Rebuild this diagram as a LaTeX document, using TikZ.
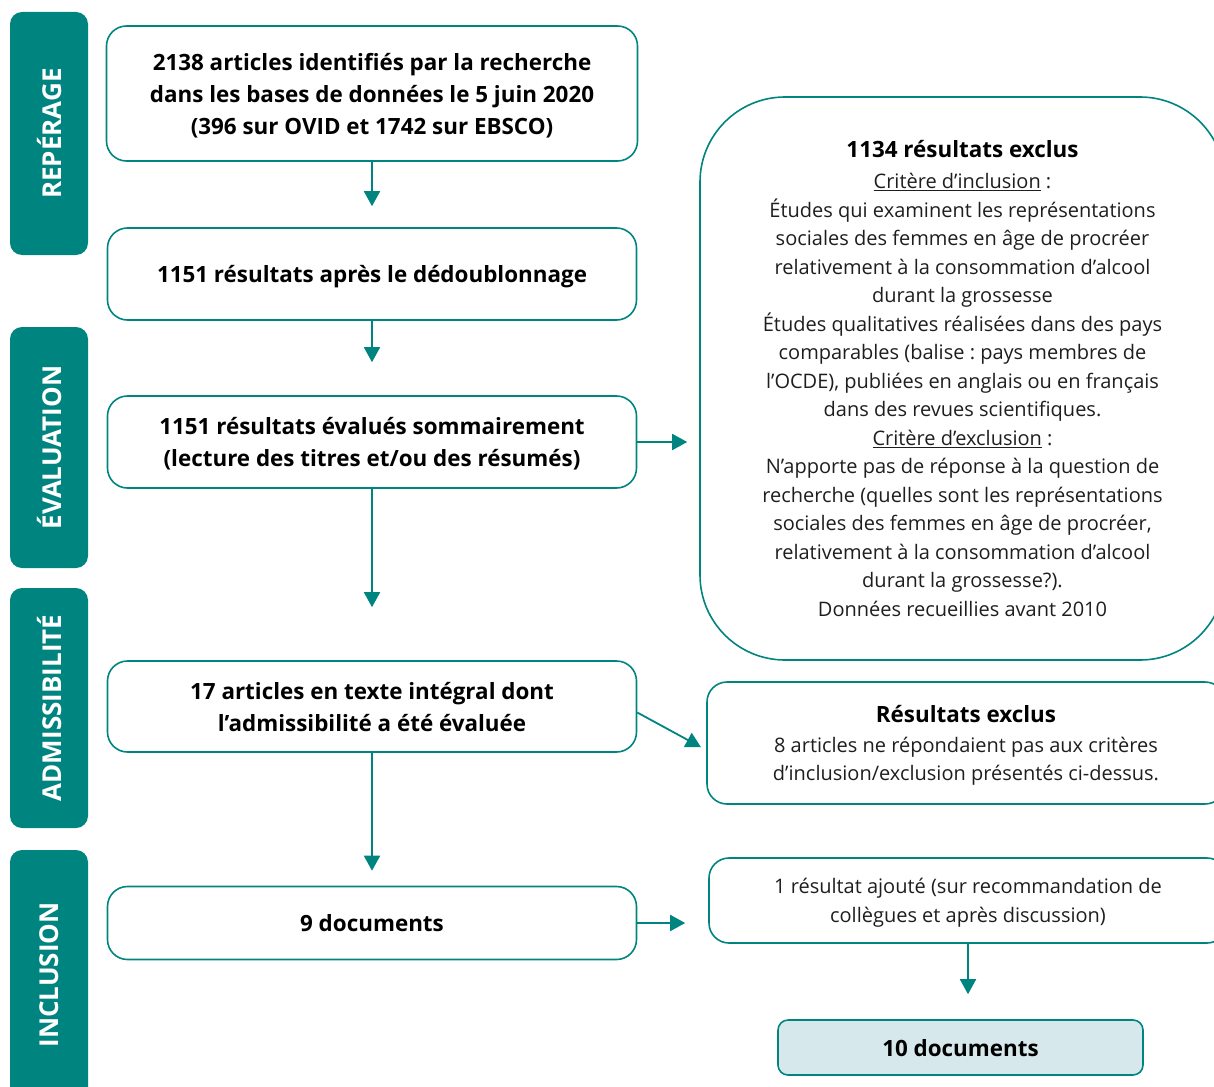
\documentclass[tikz,border=0pt]{standalone}
\usepackage{fontspec}
\setmainfont{Open Sans}
\usetikzlibrary{arrows.meta}
\definecolor{sarcelle}{HTML}{008480}
\definecolor{bleupale}{HTML}{D7E8EC}
\definecolor{texte}{HTML}{1E1E1E}
\frenchspacing

\begin{document}
\begin{tikzpicture}[x=1pt,y=1pt]
\tikzstyle{every node}+=[inner sep=0pt]
\tikzstyle{etape}=[draw=sarcelle, line width=1.6pt, rounded corners=20pt, align=center, text depth=-9pt, font=\fontsize{22.4}{32}\selectfont\bfseries]
\tikzstyle{note}=[draw=sarcelle, line width=1.6pt, rounded corners=20pt, align=center, text=texte, text depth=-9pt, font=\fontsize{20}{28.5}\selectfont]
\tikzstyle{phase}=[fill=sarcelle, rounded corners=12pt, rotate=90, text=white, minimum height=78pt, text depth=-8pt, font=\fontsize{26}{30}\selectfont\bfseries]
\tikzstyle{fleche}=[draw=sarcelle, line width=1.8pt, -{Triangle[length=15pt,width=16pt]}]
\useasboundingbox (0,0) rectangle (1214,-1086);
% bandes des phases
\node[phase, minimum width=243pt] (reperage) at (49,-133.5) {REPÉRAGE};
\node[phase, minimum width=241pt] (evaluation) at (49,-447.5) {ÉVALUATION};
\node[phase, minimum width=240pt] (admissibilite) at (49,-708) {ADMISSIBILITÉ};
\node[phase, minimum width=250pt] (inclusion) at (49,-975) {INCLUSION};
% colonne de gauche
\node[etape, minimum width=531pt, minimum height=135pt] (b1) at (372,-93.5) {2138 articles identifiés par la recherche\\dans les bases de données le 5 juin 2020\\(396 sur OVID et 1742 sur EBSCO)};
\node[etape, minimum width=529pt, minimum height=92pt] (b2) at (372,-274) {1151 résultats après le dédoublonnage};
\node[etape, minimum width=529pt, minimum height=92pt] (b3) at (372,-442) {1151 résultats évalués sommairement\\(lecture des titres et/ou des résumés)};
\node[etape, minimum width=529pt, minimum height=91pt] (b4) at (372,-706.5) {17 articles en texte intégral dont\\l’admissibilité a été évaluée};
\node[etape, minimum width=529pt, minimum height=73pt] (b5) at (372,-923) {9 documents};
% colonne de droite
\node[note, rounded corners=85pt, text depth=0pt, minimum width=525pt, minimum height=563pt] (exclus1) at (962.5,-378.5) {{\fontsize{22.4}{28.5}\selectfont\bfseries\color{black}1134 résultats exclus}\\[2.5pt]
\underline{Critère d’inclusion} :\\
Études qui examinent les représentations\\
sociales des femmes en âge de procréer\\
relativement à la consommation d’alcool\\
durant la grossesse\\
Études qualitatives réalisées dans des pays\\
comparables (balise : pays membres de\\
l’OCDE), publiées en anglais ou en français\\
dans des revues scientifiques.\\
\underline{Critère d’exclusion} :\\
N’apporte pas de réponse à la question de\\
recherche (quelles sont les représentations\\
sociales des femmes en âge de procréer,\\
relativement à la consommation d’alcool\\
durant la grossesse?).\\
Données recueillies avant 2010};
\node[note, minimum width=518pt, minimum height=122pt] (exclus2) at (966,-743) {{\fontsize{22.4}{28.5}\selectfont\bfseries\color{black}Résultats exclus}\\[1.5pt]
8 articles ne répondaient pas aux critères\\
d’inclusion/exclusion présentés ci-dessus.};
\node[note, minimum width=518pt, minimum height=85pt] (ajout) at (968,-900.5) {1 résultat ajouté (sur recommandation de\\collègues et après discussion)};
\node[etape, fill=bleupale, rounded corners=10pt, minimum width=365pt, minimum height=55pt] (final) at (960.5,-1047.5) {10 documents};
% fleches
\draw[fleche, shorten >=21pt] (b1) -- (b2);
\draw[fleche, shorten >=33pt] (b2) -- (b3);
\draw[fleche, shorten >=53pt] (b3) -- (b4);
\draw[fleche, shorten >=15pt] (b4) -- (b5);
\draw[fleche, shorten >=12pt] (b3.east) -- (b3.east -| exclus1.west);
\draw[fleche, shorten >=6pt] ([yshift=-6pt]b4.east) -- ([yshift=-7pt]exclus2.west);
\draw[fleche, shorten >=23pt] (b5.east) -- (b5.east -| ajout.west);
\draw[fleche, shorten >=25pt] (ajout.south) -- (ajout.south |- final.north);
\end{tikzpicture}
\end{document}
